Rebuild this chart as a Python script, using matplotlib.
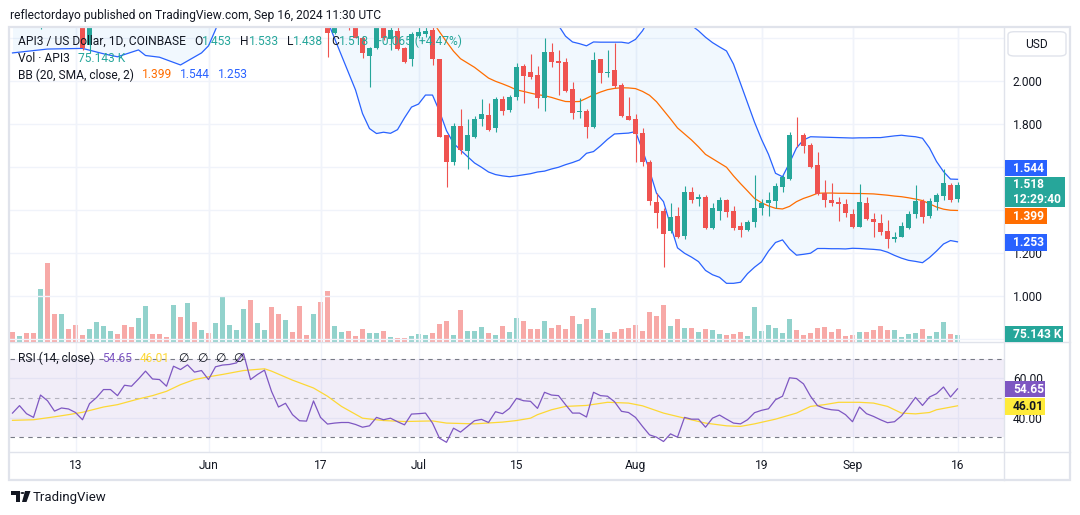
import numpy as np
import pandas as pd
import matplotlib
matplotlib.use("Agg")
import matplotlib.pyplot as plt
import matplotlib.dates as mdates
from matplotlib.patches import Rectangle, FancyBboxPatch, Polygon, Circle
from matplotlib.lines import Line2D

plt.rcParams['font.family'] = ['Roboto', 'DejaVu Sans']

# ------------------------------------------------------------------ data
start_date = '2024-05-04'
end_date = '2024-09-16'
nan = np.nan

open_ = [nan, nan, nan, nan, 2.30, nan, nan, nan, nan, nan,
         2.32, 2.169, nan, nan, nan, nan, nan, nan, nan, nan,
         nan, nan, nan, nan, nan, nan, nan, nan, nan, nan,
         nan, nan, nan, nan, nan, nan, nan, nan, nan, nan,
         nan, nan, nan, nan, nan, 2.29, 2.226, nan, 2.30, 2.28,
         2.200, 2.119, 2.153, 2.27, 2.197, 2.234, 2.156, 2.104, 2.212, 2.220,
         2.239, 2.102, 1.750, 1.626, 1.792, 1.677, 1.742, 1.823, 1.843, 1.784,
         1.916, 1.867, 1.928, 2.071, 2.045, 2.029, 1.924, 2.135, 2.094, 2.088,
         1.963, 1.855, 1.862, 1.789, 2.104, 2.040, 2.052, 1.983, 1.839, 1.825,
         1.761, 1.626, 1.440, 1.397, 1.305, 1.373, 1.280, 1.485, 1.451, 1.463,
         1.318, 1.398, 1.448, 1.397, 1.327, 1.308, 1.347, 1.409, 1.435, 1.445,
         1.510, 1.544, 1.752, 1.750, 1.704, 1.611, 1.479, 1.448, 1.440, 1.429,
         1.383, 1.324, 1.433, 1.360, 1.340, 1.304, 1.265, 1.277, 1.319, 1.381,
         1.443, 1.375, 1.437, 1.468, 1.518, 1.453]
high = [nan, nan, nan, nan, 2.36, nan, nan, nan, nan, nan,
        2.36, 2.34, nan, nan, nan, nan, nan, nan, nan, nan,
        nan, nan, nan, nan, nan, nan, nan, nan, nan, nan,
        nan, nan, nan, nan, nan, nan, nan, nan, nan, nan,
        nan, nan, nan, nan, nan, 2.33, 2.30, nan, 2.32, 2.30,
        2.21, 2.16, 2.29, 2.29, 2.26, 2.26, 2.16, 2.231, 2.253, 2.26,
        2.26, 2.105, 1.752, 1.805, 1.870, 1.823, 1.839, 1.916, 1.900, 1.927,
        1.932, 1.936, 2.087, 2.079, 2.127, 2.071, 2.200, 2.177, 2.146, 2.108,
        1.997, 1.921, 1.870, 2.138, 2.104, 2.146, 2.180, 1.990, 1.926, 1.847,
        1.784, 1.634, 1.479, 1.409, 1.433, 1.414, 1.513, 1.507, 1.476, 1.471,
        1.435, 1.463, 1.453, 1.420, 1.347, 1.355, 1.564, 1.451, 1.484, 1.526,
        1.564, 1.763, 1.835, 1.761, 1.713, 1.673, 1.541, 1.528, 1.460, 1.453,
        1.406, 1.522, 1.460, 1.386, 1.383, 1.355, 1.300, 1.346, 1.397, 1.518,
        1.451, 1.459, 1.482, 1.592, 1.526, 1.533]
low = [nan, nan, nan, nan, 2.242, nan, nan, nan, nan, nan,
       2.146, 2.130, nan, nan, nan, nan, nan, nan, nan, nan,
       nan, nan, nan, nan, nan, nan, nan, nan, nan, nan,
       nan, nan, nan, nan, nan, nan, nan, nan, nan, nan,
       nan, nan, nan, nan, nan, 2.112, 2.22, nan, 2.24, 2.200,
       2.110, 1.975, 2.149, 2.19, 2.146, 2.146, 2.085, 2.073, 2.200, 2.207,
       2.076, 1.740, 1.510, 1.611, 1.662, 1.593, 1.735, 1.792, 1.770, 1.766,
       1.843, 1.859, 1.913, 1.900, 2.012, 1.877, 1.863, 2.068, 1.936, 1.950,
       1.823, 1.831, 1.738, 1.784, 1.991, 2.021, 1.967, 1.834, 1.818, 1.626,
       1.607, 1.425, 1.316, 1.134, 1.296, 1.270, 1.268, 1.433, 1.420, 1.313,
       1.313, 1.355, 1.367, 1.308, 1.277, 1.304, 1.324, 1.378, 1.375, 1.409,
       1.487, 1.541, 1.696, 1.668, 1.597, 1.471, 1.414, 1.420, 1.352, 1.367,
       1.319, 1.322, 1.355, 1.277, 1.284, 1.226, 1.254, 1.276, 1.313, 1.363,
       1.342, 1.364, 1.401, 1.448, 1.440, 1.438]
close = [nan, nan, nan, nan, 2.33, nan, nan, nan, nan, nan,
         2.153, 2.31, nan, nan, nan, nan, nan, nan, nan, nan,
         nan, nan, nan, nan, nan, nan, nan, nan, nan, nan,
         nan, nan, nan, nan, nan, nan, nan, nan, nan, nan,
         nan, nan, nan, nan, nan, 2.226, 2.27, nan, 2.27, 2.203,
         2.130, 2.153, 2.26, 2.200, 2.239, 2.150, 2.091, 2.220, 2.228, 2.234,
         2.102, 1.742, 1.626, 1.792, 1.680, 1.750, 1.825, 1.848, 1.773, 1.918,
         1.863, 1.926, 2.065, 2.025, 2.019, 1.924, 2.135, 2.091, 2.087, 1.955,
         1.851, 1.860, 1.789, 2.099, 2.040, 2.045, 1.980, 1.839, 1.820, 1.755,
         1.626, 1.443, 1.389, 1.290, 1.369, 1.277, 1.485, 1.448, 1.460, 1.316,
         1.412, 1.448, 1.393, 1.319, 1.308, 1.344, 1.412, 1.435, 1.448, 1.513,
         1.553, 1.750, 1.748, 1.699, 1.603, 1.476, 1.448, 1.435, 1.429, 1.386,
         1.324, 1.437, 1.361, 1.344, 1.300, 1.265, 1.276, 1.327, 1.383, 1.443,
         1.370, 1.443, 1.471, 1.526, 1.448, 1.518]

# volume in thousands of API3, and bar direction (u = up, d = down)
volume_k = [107, 67, 90, 97, 533, 796, 283, 283, 133, 173,
            73, 133, 203, 163, 113, 83, 173, 153, 243, 363,
            83, 83, 53, 373, 253, 393, 203, 123, 93, 193,
            463, 173, 123, 333, 423, 193, 123, 353, 283, 223,
            103, 363, 73, 283, 403, 513, 163, 103, 113, 63,
            133, 93, 93, 113, 53, 43, 43, 67, 83, 77,
            97, 183, 213, 73, 323, 113, 113, 153, 97, 73,
            163, 103, 243, 217, 133, 133, 213, 147, 173, 133,
            263, 187, 233, 343, 123, 97, 103, 133, 143, 173,
            113, 303, 263, 373, 163, 233, 143, 143, 103, 133,
            123, 83, 73, 83, 103, 63, 353, 113, 173, 143,
            93, 233, 123, 77, 93, 143, 153, 103, 133, 63,
            73, 103, 103, 123, 163, 123, 123, 53, 83, 90,
            133, 63, 100, 203, 87, 75.143]
volume_dir = ("dudduddudd" "duuuuddduu" "dddudududu" "uuuuduuddu" "dddudduudd"
              "duududduuu" "ddduduuudu" "duuddduddd" "dudududddd" "ddddududud"
              "uuddduuuuu" "uudddddddd" "dudddduuuu" "duuudu")

rsi = [42.3, 46.1, 42.0, 40.1, 51.5, 48.6, 43.3, 44.9, 44.4, 42.6,
       38.9, 47.1, 50.2, 54.3, 54.3, 51.2, 56.5, 56.0, 59.7, 63.7,
       59.7, 59.4, 56.0, 66.2, 64.5, 66.9, 63.2, 64.0, 59.4, 65.9,
       66.8, 67.1, 67.9, 72.7, 59.4, 62.0, 64.2, 53.4, 45.4, 47.3,
       41.5, 38.4, 38.2, 48.5, 40.1, 36.7, 37.2, 37.5, 37.5, 36.5,
       35.1, 35.8, 40.1, 38.9, 39.7, 37.9, 36.3, 41.8, 42.0, 42.3,
       37.2, 29.5, 27.4, 34.6, 32.6, 35.5, 38.4, 39.1, 37.5, 43.0,
       42.0, 44.7, 49.8, 48.6, 48.3, 44.7, 52.9, 51.5, 51.2, 46.6,
       42.3, 42.3, 40.3, 52.9, 51.2, 50.9, 48.1, 43.2, 42.6, 40.1,
       35.5, 31.2, 30.0, 27.8, 31.7, 30.0, 40.1, 39.2, 39.2, 35.1,
       39.7, 41.3, 39.2, 37.2, 36.8, 38.9, 42.5, 43.7, 44.5, 49.1,
       50.9, 60.3, 59.9, 57.2, 50.9, 46.1, 44.7, 44.0, 43.7, 41.5,
       37.9, 45.4, 42.0, 40.6, 38.9, 37.4, 37.9, 40.9, 45.4, 50.3,
       46.2, 50.5, 52.2, 55.6, 50.5, 54.65]

# RSI moving average, read at these days (days before the last bar)
rsi_ma_day = [-135, -132, -129, -127, -125, -122, -120, -117, -115, -113, -111, -109,
              -107, -105, -102, -99, -98, -95, -92, -90, -88, -85, -82, -79, -75,
              -73, -69, -65, -63, -61, -60, -58, -56, -53, -50, -47, -45, -42, -39,
              -36, -33, -31, -29, -26, -23, -21, -19, -17, -14, -12, -10, -8, -6,
              -4, -3, 0]
rsi_ma = [38.6, 38.9, 40.4, 41.5, 42.7, 45.4, 46.6, 49.5, 51.2, 53.4, 56.8, 59.4,
          60.8, 62.0, 64.0, 64.9, 63.7, 59.1, 55.1, 50.9, 45.7, 39.7, 38.5, 38.0, 38.3,
          37.2, 36.8, 37.7, 38.5, 39.7, 41.5, 44.0, 45.7, 46.2, 47.8, 47.4, 46.0, 42.3, 39.7,
          37.2, 35.8, 35.5, 36.8, 39.2, 42.3, 45.7, 46.6, 47.8, 47.8, 47.4, 45.7, 42.3, 41.9,
          42.6, 44.0, 46.01]

# Bollinger bands (20, 2), read at these days (days before the last bar)
bb_day = [-135, -130, -125, -122, -120, -117, -116, -114, -111, -108, -107, -106, -105,
          -100, -95, -91] + list(range(-90, 1))
bb_lower = [2.132, 2.150, 2.153, 2.128, 2.114, 2.146, 2.120, 2.112, 2.076, 2.132, 2.165,
            2.24, 2.32, 2.45, 2.50, 2.38,
            2.28, 2.20, 2.12, 2.04, 1.96, 1.85, 1.78, 1.757, 1.763, 1.758,
            1.775, 1.83, 1.88, 1.894, 1.936, 1.936, 1.86, 1.77, 1.712, 1.68,
            1.65, 1.62, 1.60, 1.578, 1.566, 1.56, 1.556, 1.560, 1.565, 1.570,
            1.578, 1.582, 1.592, 1.600, 1.612, 1.622, 1.634, 1.665, 1.673, 1.70,
            1.73, 1.755, 1.757, 1.759, 1.766, 1.68, 1.585, 1.479, 1.44, 1.33,
            1.225, 1.20, 1.182, 1.161, 1.120, 1.10, 1.088, 1.060, 1.060, 1.065,
            1.105, 1.135, 1.16, 1.21, 1.25, 1.262, 1.22, 1.191, 1.195, 1.200,
            1.222, 1.222, 1.221, 1.221, 1.220, 1.223, 1.222, 1.220, 1.218, 1.215,
            1.205, 1.190, 1.177, 1.167, 1.162, 1.156, 1.18, 1.21, 1.243, 1.259, 1.253]
bb_upper = [2.95, 2.95, 2.95, 2.97, 3.0, 3.05, 3.05, 3.08, 3.1, 3.12, 3.12, 3.12, 3.12,
            3.1, 3.0, 2.9,
            2.88, 2.87, 2.86, 2.85, 2.84, 2.84, 2.83, 2.82, 2.81, 2.80,
            2.78, 2.76, 2.75, 2.74, 2.73, 2.72, 2.70, 2.68, 2.66, 2.64,
            2.62, 2.60, 2.57, 2.54, 2.51, 2.48, 2.45, 2.42, 2.40, 2.38,
            2.36, 2.34, 2.30, 2.26, 2.21, 2.183, 2.175, 2.165, 2.183, 2.182,
            2.182, 2.182, 2.182, 2.177, 2.195, 2.235, 2.29, 2.34, 2.38, 2.40,
            2.38, 2.32, 2.26, 2.235, 2.205, 2.18, 2.16, 2.141, 2.08, 1.99,
            1.90, 1.81, 1.73, 1.66, 1.572, 1.556, 1.62, 1.69, 1.727, 1.742,
            1.741, 1.740, 1.739, 1.738, 1.737, 1.736, 1.737, 1.737, 1.738, 1.738,
            1.742, 1.746, 1.749, 1.745, 1.742, 1.735, 1.69, 1.627, 1.58, 1.545, 1.544]
bb_basis = [2.54, 2.55, 2.55, 2.55, 2.56, 2.60, 2.58, 2.60, 2.59, 2.62, 2.64, 2.68, 2.72,
            2.78, 2.75, 2.64,
            2.60, 2.58, 2.56, 2.54, 2.52, 2.50, 2.48, 2.46, 2.45, 2.44,
            2.43, 2.42, 2.40, 2.38, 2.33, 2.28, 2.23, 2.184, 2.14, 2.105,
            2.085, 2.065, 2.04, 2.015, 2.0, 1.988, 1.975, 1.96, 1.953, 1.945,
            1.938, 1.933, 1.925, 1.915, 1.906, 1.905, 1.906, 1.921, 1.937, 1.95,
            1.961, 1.967, 1.970, 1.969, 1.966, 1.953, 1.935, 1.905, 1.865, 1.825,
            1.783, 1.755, 1.727, 1.695, 1.66, 1.64, 1.62, 1.60, 1.56, 1.524,
            1.49, 1.455, 1.435, 1.42, 1.409, 1.406, 1.418, 1.44, 1.455, 1.466,
            1.479, 1.480, 1.480, 1.479, 1.479, 1.478, 1.478, 1.477, 1.476, 1.473,
            1.470, 1.466, 1.463, 1.458, 1.452, 1.445, 1.43, 1.415, 1.405, 1.400, 1.399]

price_grid = [0.8, 1.0, 1.2, 1.4, 1.6, 1.8, 2.0, 2.2]
price_labels_shown = [1.0, 1.2, 1.8, 2.0]   # the others sit under the value boxes
rsi_ticks = [40, 60]
date_ticks = ['2024-05-13', '2024-06-01', '2024-06-17', '2024-07-01', '2024-07-15',
              '2024-08-01', '2024-08-19', '2024-09-01', '2024-09-16']
date_labels = ['13', 'Jun', '17', 'Jul', '15', 'Aug', '19', 'Sep', '16']

# ------------------------------------------------------------------ style
UP, DN = '#26a69a', '#ef5350'
VUP, VDN = '#92d2cc', '#f7a9a7'
BLUE, ORANGE, PURPLE, YELLOW = '#2962ff', '#ff6d00', '#7e57c2', '#fdd835'
TXT = '#131722'
GRID = '#f0f3fa'
LINE = '#e0e3eb'
FS = 8.64

W, H = 1080, 515
fig = plt.figure(figsize=(W / 100, H / 100), dpi=100)
fig.patch.set_facecolor('white')


def fr(x0, y0, x1, y1):
    return [x0 / W, 1 - y1 / H, (x1 - x0) / W, (y1 - y0) / H]


PL, PR = 10, 1004
axv = fig.add_axes(fr(PL, 27, PR, 342.3))
ax = fig.add_axes(fr(PL, 27, PR, 342.3), sharex=axv)
axr = fig.add_axes(fr(PL, 342.3, PR, 452.3), sharex=axv)
ax.patch.set_visible(False)

dates = pd.date_range(start_date, end_date, freq='D')
x = mdates.date2num(dates)
last = x[-1]
ax.set_xlim(last - 947.5 / 7, last + 46.5 / 7)

O, Hh, L, C = map(np.array, (open_, high, low, close))
valid = ~np.isnan(O)
up = C >= O
cols = np.where(up, UP, DN)

# volume
vcols = [VUP if c == 'u' else VDN for c in volume_dir]
axv.bar(x, volume_k, width=0.8, color=vcols, linewidth=0)
axv.set_ylim(0, 3153)
axv.set_yticks([])
axv.tick_params(axis='x', length=0, labelbottom=False)
for s in axv.spines.values():
    s.set_visible(False)

# bollinger
bx = last + np.array(bb_day)
ax.fill_between(bx, bb_lower, bb_upper, color='#2196f3', alpha=0.06, lw=0, zorder=1)
ax.plot(bx, bb_upper, color=BLUE, lw=0.9, zorder=2)
ax.plot(bx, bb_lower, color=BLUE, lw=0.9, zorder=2)
ax.plot(bx, bb_basis, color=ORANGE, lw=0.9, zorder=2)

# candles
ax.vlines(x[valid], L[valid], Hh[valid], colors=cols[valid], lw=0.8, zorder=3)
bh = np.maximum(np.abs(C - O), 0.004)
ax.bar(x[valid], bh[valid], bottom=np.minimum(O, C)[valid], width=0.72,
       color=cols[valid], linewidth=0, zorder=4)

ax.set_ylim(0.7856, 2.2526)
ax.set_yticks(price_grid)
ax.set_yticklabels([f'{v:.3f}' if v in price_labels_shown else '' for v in price_grid])
ax.yaxis.tick_right()
ax.tick_params(axis='y', length=0, pad=6.3, labelsize=FS, labelcolor=TXT)
tx = mdates.date2num(pd.to_datetime(date_ticks))
ax.set_xticks(tx)
ax.tick_params(axis='x', length=0, labelbottom=False)
ax.grid(True, color=GRID, lw=1)
ax.set_axisbelow(True)
for s in ax.spines.values():
    s.set_visible(False)
axv.set_xticks(tx)
axv.grid(True, axis='x', color=GRID, lw=1)

# RSI panel
axr.axhspan(30, 70, color=PURPLE, alpha=0.1, lw=0)
axr.axhline(70, color='#787b86', lw=0.8, ls=(0, (4, 4)))
axr.axhline(50, color='#787b86', lw=0.8, ls=(0, (4, 4)), alpha=0.5)
axr.axhline(30, color='#787b86', lw=0.8, ls=(0, (4, 4)))
axr.plot(last + np.array(rsi_ma_day), rsi_ma, color=YELLOW, lw=0.9)
axr.plot(x, rsi, color=PURPLE, lw=0.9)
axr.set_ylim(22.3, 78.4)
axr.set_yticks(rsi_ticks)
axr.set_yticklabels([f'{v:.2f}' for v in rsi_ticks])
axr.yaxis.tick_right()
axr.tick_params(axis='y', length=0, pad=6.3, labelsize=FS, labelcolor=TXT)
axr.set_xticks(tx)
axr.set_xticklabels(date_labels)
axr.tick_params(axis='x', length=0, pad=4.5, labelsize=FS, labelcolor=TXT)
axr.grid(True, color=GRID, lw=1)
axr.set_axisbelow(True)
for s in axr.spines.values():
    s.set_visible(False)


# ------------------------------------------------------------------ frame lines
def hline(y, x0, x1, color=LINE, lw=1.0):
    fig.add_artist(Line2D([x0 / W, x1 / W], [1 - y / H] * 2, color=color, lw=lw))


def vline(xp, y0, y1, color=LINE, lw=1.0):
    fig.add_artist(Line2D([xp / W] * 2, [1 - y0 / H, 1 - y1 / H], color=color, lw=lw))


hline(342.3, PL, 1070)
hline(452.3, PL, 1070)
vline(PR, 27, 480)
fig.add_artist(Rectangle((9 / W, 1 - 480 / H), 1061 / W, 453.5 / H, fill=False,
                         ec=LINE, lw=1.6, transform=fig.transFigure))

# ------------------------------------------------------------------ texts
renderer = fig.canvas.get_renderer()


def run(x0, y, parts, size=FS):
    xp = x0
    for s, color, gap in parts:
        t = fig.text(xp / W, 1 - y / H, s, color=color, fontsize=size, va='center', ha='left')
        xp += t.get_window_extent(renderer).width + gap


fig.text(10 / W, 1 - 15 / H, 'reflectordayo published on TradingView.com, Sep 16, 2024 11:30 UTC',
         fontsize=FS, color=TXT, va='center', ha='left')

run(18, 41.7, [('API3 / US Dollar, 1D, COINBASE', TXT, 8),
               ('O', TXT, 0), (f'{open_[-1]:.3f}', UP, 8),
               ('H', TXT, 0), (f'{high[-1]:.3f}', UP, 8),
               ('L', TXT, 0), (f'{low[-1]:.3f}', UP, 8),
               ('C', TXT, 0), (f'{close[-1]:.3f}', UP, 6),
               ('+0.065 (+4.47%)', UP, 0)])
run(18, 58.3, [('Vol · API3', TXT, 8), (f'{volume_k[-1]:.3f} K', UP, 0)])
run(18, 75, [('BB (20, SMA, close, 2)', TXT, 8), (f'{bb_basis[-1]:.3f}', ORANGE, 8),
             (f'{bb_upper[-1]:.3f}', BLUE, 8), (f'{bb_lower[-1]:.3f}', BLUE, 0)])
run(18, 358, [('RSI (14, close)', TXT, 8), (f'{rsi[-1]:.2f}', PURPLE, 8),
              (f'{rsi_ma[-1]:.2f}', YELLOW, 8),
              ('∅', TXT, 8), ('∅', TXT, 8), ('∅', TXT, 8), ('∅', TXT, 0)])

# USD box
fig.add_artist(FancyBboxPatch((1008 / W, 1 - 56 / H), 58 / W, 24.3 / H,
                              boxstyle='round,pad=0,rounding_size=0.006',
                              fc='white', ec=LINE, lw=1, transform=fig.transFigure))
fig.text(1037 / W, 1 - 44.5 / H, 'USD', fontsize=FS, color=TXT, ha='center', va='center')


def label_box(y0, y1, x1, color, lines, tcolor='white'):
    fig.add_artist(Rectangle((1005 / W, 1 - y1 / H), (x1 - 1005) / W, (y1 - y0) / H,
                             fc=color, ec='none', transform=fig.transFigure, zorder=5))
    n = len(lines)
    for k, s in enumerate(lines):
        yc = y0 + (y1 - y0) * (k + 0.5) / n
        fig.text(1013 / W, 1 - yc / H, s, fontsize=FS, color=tcolor, fontweight='bold',
                 ha='left', va='center', zorder=6)


label_box(160, 176, 1047.3, BLUE, [f'{bb_upper[-1]:.3f}'])
label_box(177.3, 207.3, 1065, UP, [f'{close[-1]:.3f}', '12:29:40'])
label_box(208.3, 224.3, 1047.3, ORANGE, [f'{bb_basis[-1]:.3f}'])
label_box(234.3, 250.7, 1047.3, BLUE, [f'{bb_lower[-1]:.3f}'])
label_box(326, 342, 1063, UP, [f'{volume_k[-1]:.3f} K'])
label_box(381, 397.3, 1045, PURPLE, [f'{rsi[-1]:.2f}'])
label_box(398.3, 414.7, 1045, '#ffeb3b', [f'{rsi_ma[-1]:.2f}'], TXT)


# TradingView logo
def P(pts):
    return [(a / W, 1 - b / H) for a, b in pts]


fig.add_artist(Polygon(P([(11, 491), (20, 491), (20, 502), (16, 502), (16, 495), (11, 495)]),
                       closed=True, fc=TXT, ec='none', transform=fig.transFigure))
fig.add_artist(Circle((22.5 / W, 1 - 493 / H), 2 / W, fc=TXT, ec='none', transform=fig.transFigure))
fig.add_artist(Polygon(P([(25, 491), (30.5, 491), (26.5, 502), (22, 502)]),
                       closed=True, fc=TXT, ec='none', transform=fig.transFigure))
fig.text(33 / W, 1 - 497 / H, 'TradingView', fontsize=9.5, color=TXT, ha='left', va='center')

fig.savefig('out.png', dpi=100, facecolor='white')
